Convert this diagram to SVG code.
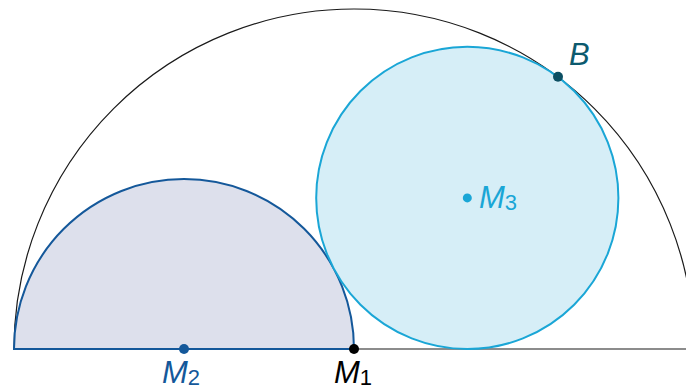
<svg xmlns="http://www.w3.org/2000/svg" width="686" height="389" viewBox="0 0 686 389">
<style>
text{font-family:"Liberation Sans",Arial,sans-serif;font-style:italic;font-size:31px}
.sub{font-size:22px;font-style:normal}
</style>
<rect width="686" height="389" fill="#fff"/>
<g id="big-semicircle"><path d="M14,349 A340,340 0 0 1 694,349" fill="none" stroke="#1a1a1a" stroke-width="1.2"/></g>
<g id="baseline"><line x1="354" y1="349" x2="686" y2="349" stroke="#1a1a1a" stroke-width="1.2"/></g>
<g id="small-semicircle"><path d="M14,349 A170,170 0 0 1 354,349 Z" fill="#dde0ec" stroke="#14589a" stroke-width="2"/></g>
<g id="circle-M3"><circle cx="467.3" cy="197.9" r="151.1" fill="#d6eef7" stroke="#1aa6d6" stroke-width="2"/></g>
<g id="M2"><circle cx="184" cy="349" r="5" fill="#14589a"/><text x="162" y="383" fill="#14589a">M<tspan class="sub" dy="2">2</tspan></text></g>
<g id="M1"><circle cx="354" cy="349" r="5" fill="#000"/><text x="334" y="383" fill="#000">M<tspan class="sub" dy="2">1</tspan></text></g>
<g id="M3"><circle cx="467.3" cy="197.9" r="4.5" fill="#1aa6d6"/><text x="479" y="208" fill="#1aa6d6">M<tspan class="sub" dy="2">3</tspan></text></g>
<g id="B"><circle cx="558" cy="76.8" r="5" fill="#0c4f63"/><text x="569" y="65" fill="#0c5a6e">B</text></g>
</svg>
